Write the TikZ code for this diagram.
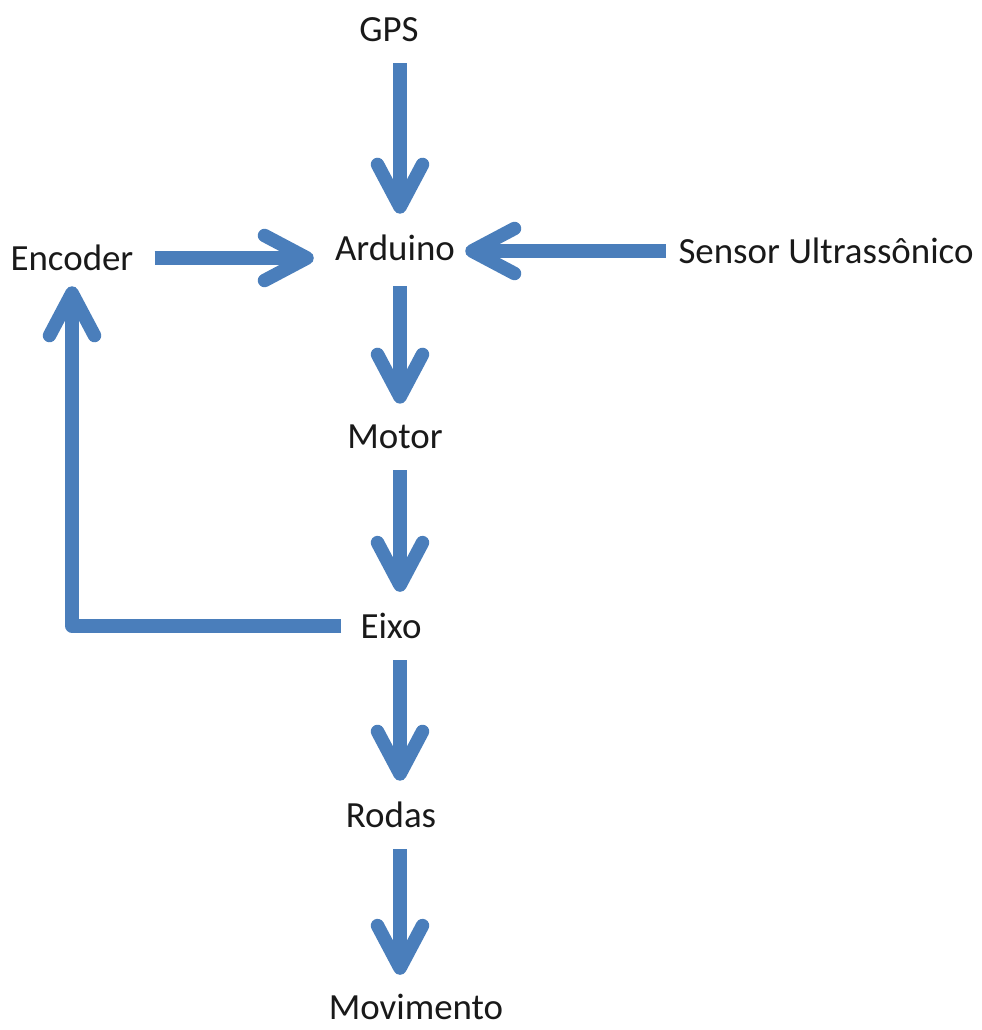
\documentclass[tikz,border=0pt]{standalone}
\usepackage{fontspec}
\setmainfont{Carlito}
\usetikzlibrary{arrows.meta}
\definecolor{flowblue}{RGB}{74,126,187}

\begin{document}
\begin{tikzpicture}[x=0.02cm,y=-0.02cm,
  block/.style={inner sep=0pt,font=\fontsize{21}{25}\selectfont,text=black!90},
  flow/.style={draw=flowblue,line width=0.27cm,line join=round,
    -{Straight Barb[length=0.85cm,width=0.9cm,round]},shorten <=0.42cm,shorten >=0.42cm}]
\useasboundingbox (0,0) rectangle (981,1030);
\coordinate (col) at (400,0);
\node[block] (GPS) at (389,30) {GPS};
\node[block] (Ard) at (395,248) {Arduino};
\node[block] (Enc) at (72,258) {Encoder};
\node[block] (Sen) at (826,251) {Sensor Ultrassônico};
\node[block] (Mot) at (395,437) {Motor};
\node[block] (Eixo) at (391,626) {Eixo};
\node[block] (Rod) at (391,815) {Rodas};
\node[block] (Mov) at (416,1007) {Movimento};
\draw[flow] (GPS.south -| col) -- (Ard.north -| col);
\draw[flow] (Enc.east) -- (Ard.west |- Enc.east);
\draw[flow,shorten <=0.25cm,shorten >=0.2cm] (Sen.west) -- (Ard.east |- Sen.west);
\draw[flow,shorten <=0.5cm] (Ard.south -| col) -- (Mot.north -| col);
\draw[flow] (Mot.south -| col) -- (Eixo.north -| col);
\draw[flow] (Eixo.south -| col) -- (Rod.north -| col);
\draw[flow,shorten >=0.38cm] (Rod.south -| col) -- (Mov.north -| col);
\draw[flow,shorten <=0.38cm,shorten >=0.3cm] (Eixo.west) -| (Enc.south);
\end{tikzpicture}
\end{document}
